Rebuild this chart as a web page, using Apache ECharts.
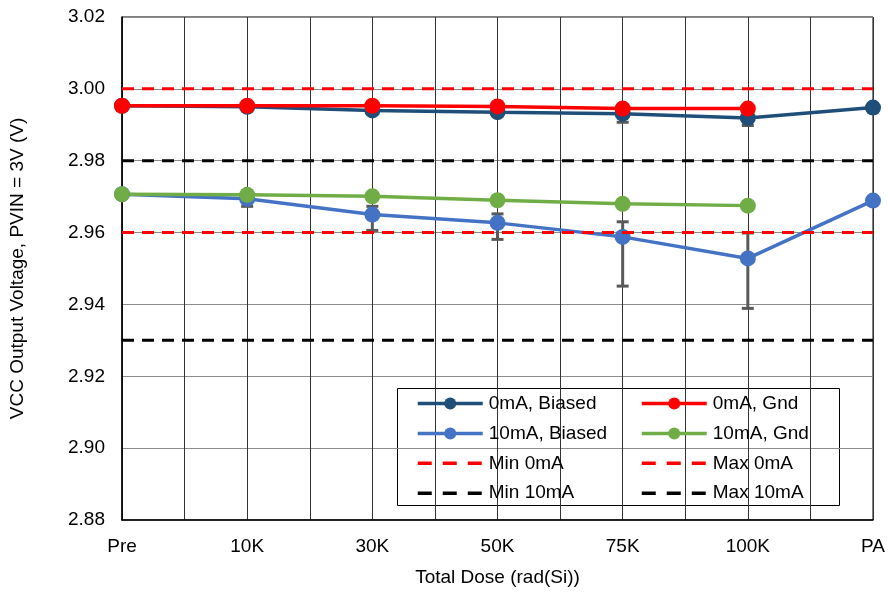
<!DOCTYPE html>
<html><head><meta charset="utf-8">
<script src="https://cdn.jsdelivr.net/npm/echarts@6/dist/echarts.min.js"></script>
<style>html,body{margin:0;padding:0;background:#fff}#c{width:888px;height:592px}</style>
</head><body><div id="c"></div>
<script>
const categories = ['Pre', '10K', '30K', '50K', '75K', '100K', 'PA'];
const biased0 = [2.9953, 2.9950, 2.9940, 2.9935, 2.9931, 2.9919, 2.9948];
const gnd0 = [2.9953, 2.9953, 2.9953, 2.9951, 2.9945, 2.9945];
const biased10 = [2.9707, 2.9694, 2.9650, 2.9627, 2.9588, 2.9528, 2.9689];
const gnd10 = [2.9707, 2.9705, 2.9701, 2.9690, 2.9680, 2.9675];
const biased0Low = [null, 2.9946, 2.9933, 2.9926, 2.9907, 2.9898, null];
const biased0High = [null, 2.9954, 2.9947, 2.9944, 2.9955, 2.9940, null];
const biased10Low = [null, 2.9673, 2.9606, 2.9581, 2.9451, 2.9389, null];
const biased10High = [null, 2.9715, 2.9673, 2.9652, 2.9630, 2.9599, null];
const limits = { 'Min 0mA': 2.96, 'Max 0mA': 3.00, 'Min 10mA': 2.93, 'Max 10mA': 2.98 };
const yTicks = { min: 2.88, max: 3.02, step: 0.02 };

const FONT = 'Liberation Sans, Arial, sans-serif';
const toXY = arr => arr.map((v, i) => [i, v]);
const errData = (lo, hi) => lo.map((l, i) => l == null ? null : [i, l, hi[i]]).filter(d => d);

function errRender(color) {
  return function (params, api) {
    const x = api.value(0);
    const a = api.coord([x, api.value(1)]);
    const b = api.coord([x, api.value(2)]);
    const w = 6;
    const st = { stroke: color, lineWidth: 3 };
    return { type: 'group', children: [
      { type: 'line', shape: { x1: a[0], y1: a[1], x2: b[0], y2: b[1] }, style: st },
      { type: 'line', shape: { x1: a[0] - w, y1: a[1], x2: a[0] + w, y2: a[1] }, style: st },
      { type: 'line', shape: { x1: b[0] - w, y1: b[1], x2: b[0] + w, y2: b[1] }, style: st }
    ]};
  };
}

function dataLine(name, arr, color) {
  return { name, type: 'line', data: toXY(arr), symbol: 'circle', symbolSize: 16,
    lineStyle: { color, width: 3.5 }, itemStyle: { color }, z: 3 };
}
function limitLine(name, color) {
  return { name, type: 'line', data: categories.map((c, i) => [i, limits[name]]), symbol: 'none',
    lineStyle: { color, width: 3, type: [12, 8] }, itemStyle: { color }, z: 4 };
}
const solidItem = name => ({ name, lineStyle: { width: 3.5 } });
const dashItem = name => ({ name, itemStyle: { opacity: 0 }, lineStyle: { width: 3.5, type: [14, 11] } });
const legendBase = { orient: 'vertical', top: 394, padding: 0, itemWidth: 65, itemHeight: 15, itemGap: 10.9,
  textStyle: { fontSize: 19, color: '#000', fontFamily: FONT, padding: [0, 0, 0, 1] } };

const chart = echarts.init(document.getElementById('c'), null, { renderer: 'canvas' });
chart.setOption({
  animation: false,
  backgroundColor: '#fff',
  textStyle: { fontFamily: FONT },
  grid: { left: 118, right: 15, top: 17, bottom: 71, show: true, borderColor: '#000', borderWidth: 1 },
  xAxis: {
    type: 'value', min: 0, max: categories.length - 1, interval: 0.5,
    name: 'Total Dose (rad(Si))', nameLocation: 'middle', nameGap: 48,
    nameTextStyle: { fontSize: 19, color: '#000', fontFamily: FONT },
    axisLine: { lineStyle: { color: '#000', width: 1.5 } },
    axisTick: { show: false },
    axisLabel: { fontSize: 19, color: '#000', margin: 17, fontFamily: FONT,
      formatter: v => Number.isInteger(v) ? categories[v] : '' },
    splitLine: { show: true, lineStyle: { color: '#333', width: 1 } }
  },
  yAxis: {
    type: 'value', min: yTicks.min, max: yTicks.max, interval: yTicks.step,
    name: 'VCC Output Voltage, PVIN = 3V (V)', nameLocation: 'middle', nameGap: 95,
    nameTextStyle: { fontSize: 19, color: '#000', fontFamily: FONT },
    axisLine: { show: true, lineStyle: { color: '#000', width: 1.5 } },
    axisTick: { show: false },
    axisLabel: { fontSize: 19, color: '#000', margin: 17, fontFamily: FONT, formatter: v => v.toFixed(2) },
    splitLine: { show: true, lineStyle: { color: '#8c8c8c', width: 1 } }
  },
  legend: [
    Object.assign({}, legendBase, { left: 416,
      data: [solidItem('0mA, Biased'), solidItem('10mA, Biased'), dashItem('Min 0mA'), dashItem('Min 10mA')] }),
    Object.assign({}, legendBase, { left: 640,
      data: [solidItem('0mA, Gnd'), solidItem('10mA, Gnd'), dashItem('Max 0mA'), dashItem('Max 10mA')] })
  ],
  graphic: [{ type: 'rect', left: 397, top: 388, z: 0,
    shape: { width: 442, height: 117 }, style: { fill: '#fff', stroke: '#000', lineWidth: 1 } }],
  series: [
    { type: 'custom', name: 'err0', data: errData(biased0Low, biased0High), renderItem: errRender('#595959'),
      encode: { x: 0, y: [1, 2] }, z: 2 },
    { type: 'custom', name: 'err10', data: errData(biased10Low, biased10High), renderItem: errRender('#595959'),
      encode: { x: 0, y: [1, 2] }, z: 2 },
    dataLine('0mA, Biased', biased0, '#1F4E79'),
    dataLine('0mA, Gnd', gnd0, '#FF0000'),
    dataLine('10mA, Biased', biased10, '#4472C4'),
    dataLine('10mA, Gnd', gnd10, '#70AD47'),
    limitLine('Min 0mA', '#FF0000'),
    limitLine('Max 0mA', '#FF0000'),
    limitLine('Min 10mA', '#000000'),
    limitLine('Max 10mA', '#000000')
  ]
});
</script></body></html>
